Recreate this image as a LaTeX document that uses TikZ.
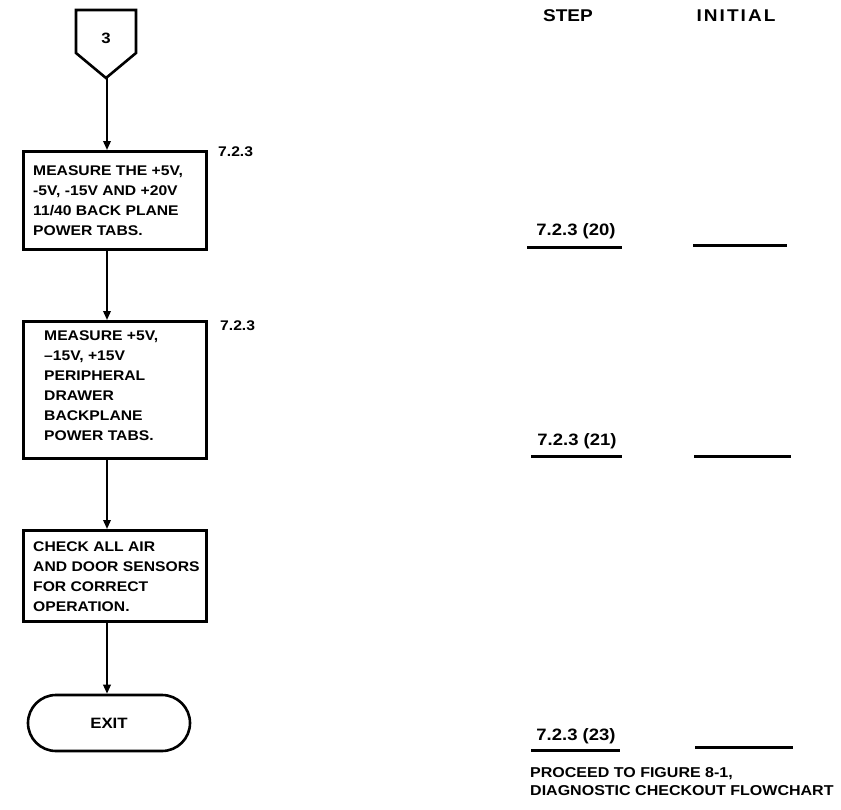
\documentclass[tikz,border=0pt]{standalone}
\usepackage{fontspec}
\newfontfamily\lab[FakeStretch=1.12]{Liberation Sans}
\newfontfamily\labsp[FakeStretch=1.12,LetterSpace=12]{Liberation Sans}
\usetikzlibrary{arrows.meta}
\begin{document}
\begin{tikzpicture}[x=1pt,y=-1pt,
  every node/.style={font=\lab\bfseries},
  txt/.style={font=\lab\bfseries\fontsize{14}{20}\selectfont, align=left, inner sep=0pt, anchor=west},
  ref/.style={font=\lab\bfseries\fontsize{14}{16}\selectfont, inner sep=0pt, anchor=west},
  col/.style={font=\lab\bfseries\fontsize{16.5}{20}\selectfont, inner sep=0pt},
  head/.style={font=\lab\bfseries\fontsize{17}{20}\selectfont, inner sep=0pt},
  box/.style={draw, line width=2.6pt, minimum width=183pt, inner sep=0pt, anchor=north west},
  term/.style={draw, line width=2.6pt, rounded corners=28pt, minimum width=162pt, minimum height=56pt, inner sep=0pt},
  arr/.style={line width=1.8pt, -{Triangle[length=9pt,width=7.5pt]}},
  rule/.style={line width=3pt}]
\useasboundingbox (0,0) rectangle (841,809);

% off-page connector
\draw[line width=2.6pt, line join=miter] (76,10) -- (136,10) -- (136,53) -- (106,78) -- (76,53) -- cycle;
\node[font=\lab\bfseries\fontsize{15}{16}\selectfont] (n3) at (106,38) {3};
\coordinate (tip) at (107,78);

% process boxes
\node[box, minimum height=98pt] (b1) at (22,150) {};
\node[txt] (t1) at (33,201) {MEASURE THE +5V,\\-5V, -15V AND +20V\\11/40 BACK PLANE\\POWER TABS.};
\node[ref] (r1) at (218,152) {7.2.3};

\node[box, minimum height=137pt] (b2) at (22,320) {};
\node[txt] (t2) at (44,386) {MEASURE +5V,\\–15V, +15V\\PERIPHERAL\\DRAWER\\BACKPLANE\\POWER TABS.};
\node[ref] (r2) at (220,326) {7.2.3};

\node[box, minimum height=91pt] (b3) at (22,529) {};
\node[txt] (t3) at (33,577) {CHECK ALL AIR\\AND DOOR SENSORS\\FOR CORRECT\\OPERATION.};

\node[term, font=\lab\bfseries\fontsize{15}{16}\selectfont] (ex) at (109,723) {EXIT};

% flow
\draw[arr] (tip) -- (tip |- b1.north);
\draw[arr] (b1.south -| tip) -- (b2.north -| tip);
\draw[arr] (b2.south -| tip) -- (b3.north -| tip);
\draw[arr] (b3.south -| tip) -- (ex.north -| tip);

% sign-off columns
\node[head] (hs) at (568,16) {STEP};
\node[head, font=\labsp\bfseries\fontsize{17}{20}\selectfont] (hi) at (736,16) {INITIAL};

\node[col] (s20) at (576,231) {7.2.3 (20)};
\draw[rule] (527,247) -- (622,247);
\draw[rule] (693,245) -- (787,245);

\node[col] (s21) at (577,441) {7.2.3 (21)};
\draw[rule] (531,456) -- (622,456);
\draw[rule] (694,456) -- (791,456);

\node[col] (s23) at (576,736) {7.2.3 (23)};
\draw[rule] (531,750) -- (620,750);
\draw[rule] (695,747) -- (793,747);

\node[font=\lab\bfseries\fontsize{14.3}{18}\selectfont, align=left, inner sep=0pt, anchor=north west] (pr) at (530,767) {PROCEED TO FIGURE 8-1,\\DIAGNOSTIC CHECKOUT FLOWCHART};
\end{tikzpicture}
\end{document}
